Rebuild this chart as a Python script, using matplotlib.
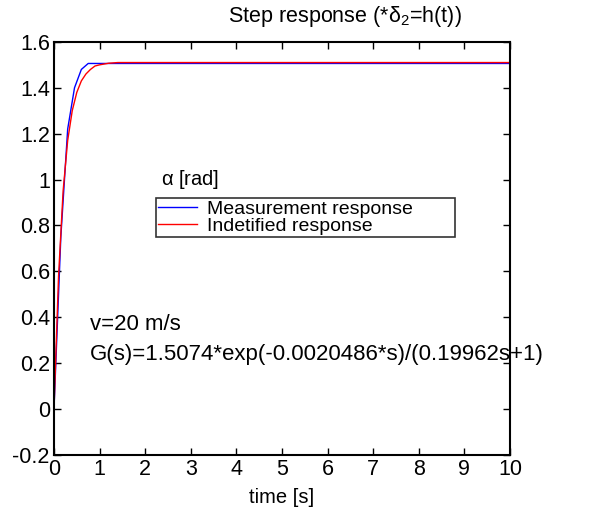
import matplotlib
matplotlib.use("Agg")
import matplotlib.pyplot as plt

plt.rcParams["font.family"] = ["Liberation Sans", "DejaVu Sans"]
plt.rcParams["mathtext.fontset"] = "custom"
plt.rcParams["mathtext.rm"] = "Liberation Sans"
plt.rcParams["mathtext.it"] = "Liberation Sans"

t_meas = [0, 0.15, 0.3, 0.45, 0.6, 0.75, 10]
y_meas = [0, 0.75, 1.22, 1.40, 1.48, 1.506, 1.506]

# identified model response
t_ident = [0, 0.1, 0.2, 0.3, 0.4, 0.5, 0.6, 0.7, 0.8, 0.9, 1.0, 1.2, 1.4, 10]
y_ident = [0, 0.58, 0.95, 1.17, 1.30, 1.38, 1.43, 1.46, 1.48, 1.495, 1.50, 1.507, 1.51, 1.51]

x_ticks = [0, 1, 2, 3, 4, 5, 6, 7, 8, 9, 10]
y_ticks = [-0.2, 0, 0.2, 0.4, 0.6, 0.8, 1.0, 1.2, 1.4, 1.6]
y_tick_labels = ["-0.2", "0", "0.2", "0.4", "0.6", "0.8", "1", "1.2", "1.4", "1.6"]

fig = plt.figure(figsize=(5.96, 5.11), dpi=100)
ax = fig.add_axes([0.0906, 0.110, 0.765, 0.808])

ax.plot(t_meas, y_meas, color="blue", lw=1.0, label="Measurement response")
ax.plot(t_ident, y_ident, color="red", lw=1.0, label="Indetified response")

ax.set_xlim(0, 10)
ax.set_ylim(-0.2, 1.6)
ax.set_xticks(x_ticks)
ax.set_yticks(y_ticks)
ax.set_yticklabels(y_tick_labels)
ax.tick_params(direction="in", length=5, width=1, labelsize=15.5,
               top=True, right=True, pad=3)
for s in ax.spines.values():
    s.set_linewidth(1.5)

ax.set_xlabel("time [s]", fontsize=14.5, labelpad=6)

fig.text(0.578, 0.968, r"Step response (*$\mathrm{\delta}_2$=h(t))", fontsize=15.5,
         ha="center", va="center")

ax.text(2.35, 1.0, r"$\mathrm{\alpha}$ [rad]", fontsize=14.5, va="center")
ax.text(0.78, 0.366, "v=20 m/s", fontsize=16, va="center")
ax.text(0.78, 0.236, "G(s)=1.5074*exp(-0.0020486*s)/(0.19962s+1)",
        fontsize=16, va="center")

leg = ax.legend(loc="upper left", bbox_to_anchor=(0.224, 0.521, 0.655, 0.101),
                mode="expand", fontsize=14, frameon=True, fancybox=False,
                borderpad=0.1, labelspacing=0.0, handlelength=2.0,
                handletextpad=0.5, borderaxespad=0)
leg.get_frame().set_edgecolor("black")
leg.get_frame().set_linewidth(1.2)

fig.savefig("out.png", dpi=100)
